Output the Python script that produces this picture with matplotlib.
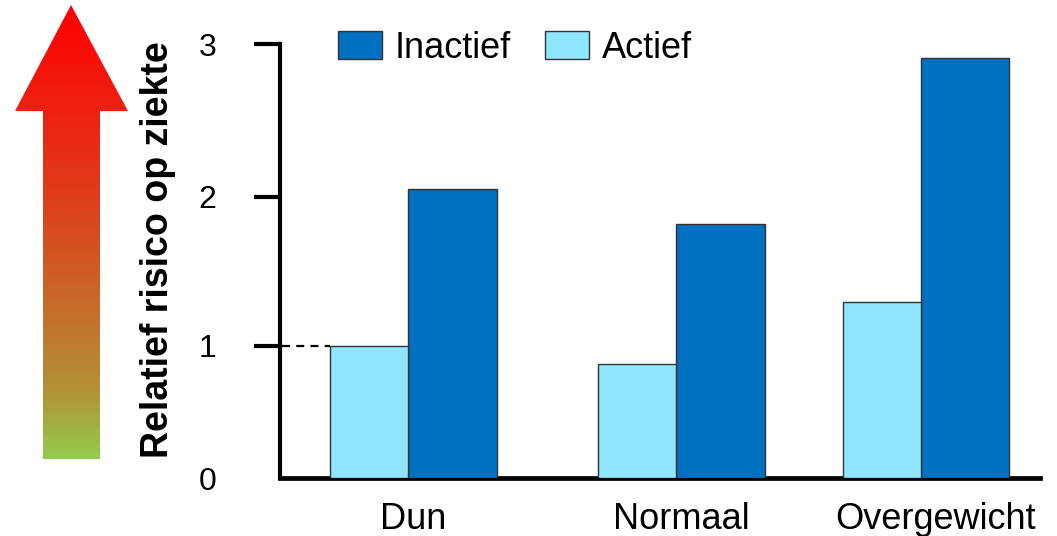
import numpy as np
import matplotlib
matplotlib.use("Agg")
import matplotlib.pyplot as plt
from matplotlib.patches import Polygon
from matplotlib.scale import FuncScale
from matplotlib.transforms import ScaledTranslation

plt.rcParams['font.family'] = ['Liberation Sans', 'DejaVu Sans']

# ---- data ----
categories = ["Dun", "Normaal", "Overgewicht"]
series_names = ["Inactief", "Actief"]
inactief = [2.05, 1.82, 2.91]
actief = [1.00, 0.86, 1.29]
y_ticks = [0, 1, 2, 3]
ylabel = "Relatief risico op ziekte"

# ---- layout ----
W, H = 1057, 536
fig = plt.figure(figsize=(W / 100, H / 100), dpi=100)

# group split points (actief to the left, inactief to the right)
split = np.array([0.0, 1.0, 1.914])
w_act, w_inact = 0.29, 0.33
col_inact = "#0070C0"
col_act = "#8EE6FF"
edge = "#333333"

ax = fig.add_axes([280 / W, 58 / H, 760 / W, 434 / H])

# value axis with unequal spacing between the unit steps
kv = np.array([0.0, 1.0, 2.0, 3.0])
kp = np.array([0.0, 132.5, 281.0, 434.0])


def fwd(v):
    v = np.asarray(v, float)
    return np.where(v < 0, v * 132.5,
                    np.where(v > 3, 434 + (v - 3) * 153, np.interp(v, kv, kp)))


def inv(p):
    p = np.asarray(p, float)
    return np.where(p < 0, p / 132.5,
                    np.where(p > 434, 3 + (p - 434) / 153, np.interp(p, kp, kv)))


ax.set_yscale(FuncScale(ax, (fwd, inv)))

ax.bar(split, inactief, width=w_inact, align='edge', color=col_inact,
       edgecolor=edge, linewidth=1.0, label=series_names[0], zorder=3)
ax.bar(split - w_act, actief, width=w_act, align='edge', color=col_act,
       edgecolor=edge, linewidth=1.0, label=series_names[1], zorder=3)

# reference line at the "Dun / Actief" level
ax.plot([-0.472, split[0] - w_act], [actief[0], actief[0]], ls=(0, (3.6, 2.8)),
        color='black', lw=1.6, zorder=2, clip_on=False)

ax.set_xlim(-0.478, 2.358)
ax.set_ylim(0, 3)

for s in ['top', 'right']:
    ax.spines[s].set_visible(False)
ax.spines['left'].set_linewidth(3.0)
ax.spines['bottom'].set_linewidth(3.4)

ax.set_yticks(y_ticks)
ax.set_yticklabels([str(t) for t in y_ticks], fontsize=23)
ax.tick_params(axis='y', direction='out', length=19, width=3.0, pad=27)
ax.yaxis.get_major_ticks()[0].tick1line.set_visible(False)

centers = split + (w_inact - w_act) / 2
ax.set_xticks(centers)
ax.set_xticklabels(categories, fontsize=26)
ax.tick_params(axis='x', length=0, pad=17)
last = ax.get_xticklabels()[-1]
last.set_transform(last.get_transform() + ScaledTranslation(0.09, 0, fig.dpi_scale_trans))

leg = fig.legend(loc='center left', bbox_to_anchor=(338 / W, 1 - 48 / H),
                 ncol=2, frameon=False, fontsize=26, borderpad=0,
                 borderaxespad=0, handlelength=1.22, handleheight=0.78,
                 handletextpad=0.36, columnspacing=0.92)

fig.text(158 / W, 1 - 250 / H, ylabel, rotation=90, fontsize=27,
         fontweight='bold', ha='center', va='center')

# ---- gradient arrow on the left ----
ov = fig.add_axes([0, 0, 1, 1], zorder=-1)
ov.set_xlim(0, W)
ov.set_ylim(H, 0)
ov.axis('off')

stops_y = np.array([5, 110, 200, 300, 390, 459], float)
stops_c = np.array([[255, 0, 0], [238, 32, 18], [222, 62, 28],
                    [200, 105, 40], [178, 145, 55], [148, 205, 78]], float) / 255
yy = np.arange(H) + 0.5
grad = np.stack([np.interp(yy, stops_y, stops_c[:, k]) for k in range(3)], axis=-1)
img = np.repeat(grad[:, None, :], 4, axis=1)
im = ov.imshow(img, extent=[0, W, H, 0], aspect='auto', interpolation='bilinear')
arrow = Polygon([(71, 5), (128, 111), (100, 111), (100, 459), (43, 459),
                 (43, 111), (15, 111)], closed=True, facecolor='none',
                 edgecolor='none', transform=ov.transData)
ov.add_patch(arrow)
im.set_clip_path(arrow)

fig.savefig("out.png", dpi=100)
